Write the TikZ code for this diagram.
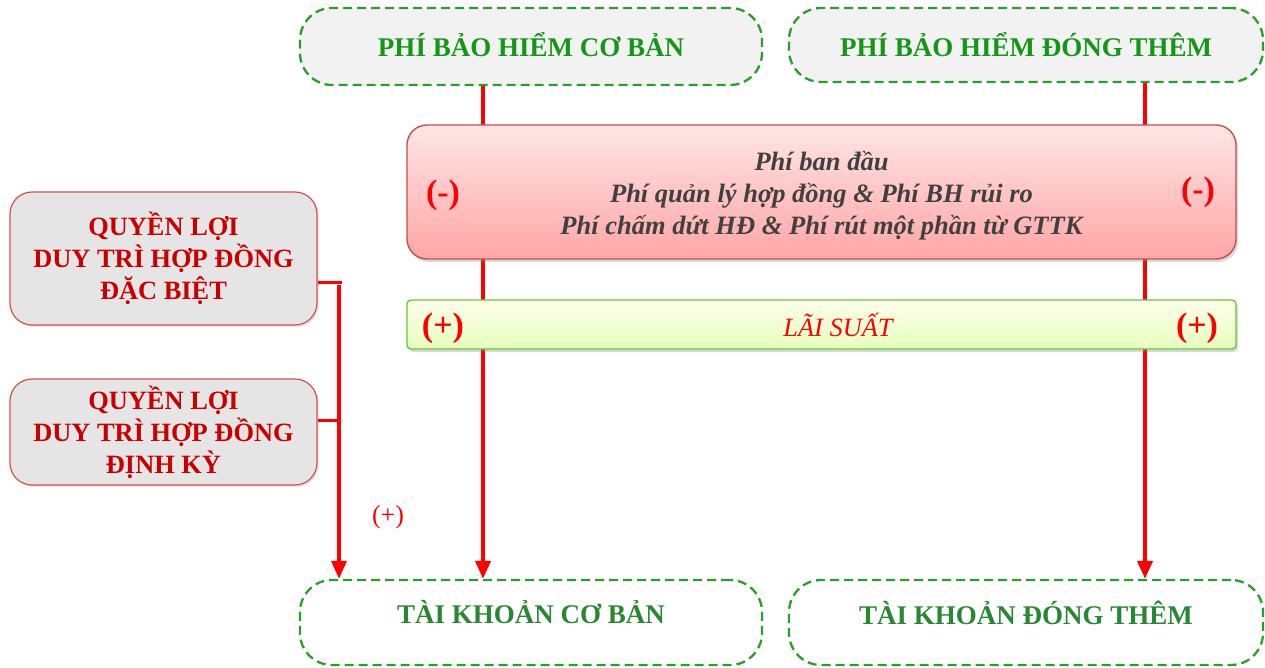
\documentclass[tikz,border=0pt]{standalone}
\usepackage{fontspec}
\setmainfont{Liberation Serif}
\usetikzlibrary{arrows.meta,shadows,calc}
\definecolor{gtext}{RGB}{22,150,22}
\definecolor{gtextb}{RGB}{40,135,50}
\definecolor{gdash}{RGB}{40,160,40}
\definecolor{rtext}{RGB}{200,0,0}
\definecolor{gray4}{RGB}{64,64,64}
\definecolor{lred}{RGB}{255,0,0}
\definecolor{feeborder}{RGB}{192,80,77}
\definecolor{sideborder}{RGB}{215,80,80}
\tikzset{
  headbox/.style={draw=gdash, dashed, dash pattern=on 9pt off 5pt, line width=2.3pt, rounded corners=32pt, fill=#1,
    minimum width=462pt, minimum height=77pt, inner sep=0pt, align=center},
  headbox/.default={white},
  sidebox/.style={draw=sideborder, line width=1.2pt, rounded corners=22pt, fill=black!10,
    minimum width=307pt, inner sep=0pt, align=center, text=rtext,
    drop shadow={opacity=0.2, shadow xshift=2pt, shadow yshift=-2pt},
    font=\fontsize{26.4}{32}\selectfont\bfseries},
  feebox/.style={draw=feeborder, line width=1.4pt, rounded corners=20pt, top color=red!10, bottom color=red!35,
    minimum width=829pt, minimum height=134pt, inner sep=0pt, align=center,
    drop shadow={opacity=0.3, shadow xshift=2pt, shadow yshift=-3pt}},
  ratebox/.style={draw=green!45!olive!80, line width=1.4pt, rounded corners=4pt, top color=green!5!yellow!8, bottom color=green!40!yellow!25,
    minimum width=829pt, minimum height=49pt, inner sep=0pt,
    drop shadow={opacity=0.3, shadow xshift=2pt, shadow yshift=-3pt}},
  flow/.style={draw=lred, line width=4pt},
  flowarr/.style={flow, -{Triangle[width=15pt,length=18pt]}},
  sign/.style={text=lred, font=\fontsize{34}{36}\selectfont\bfseries, inner sep=0pt},
  headfont/.style={font=\fontsize{27}{30}\selectfont\bfseries},
}
\begin{document}
\begin{tikzpicture}[x=1pt,y=-1pt]
\useasboundingbox (0,0) rectangle (1265,668);
% top and bottom boxes
\node[headbox=black!5, text=gtext, headfont] (tl) at (531,46.5) {};
\node[text=gtext, headfont, inner sep=0pt] (tlt) at ([yshift=1.5pt]tl.center) {PHÍ BẢO HIỂM CƠ BẢN};
\node[headbox=black!5, minimum width=474pt, minimum height=74pt] (tr) at (1026,45) {};
\node[text=gtext, headfont, inner sep=0pt] (trt) at ([yshift=0.5pt]tr.center) {PHÍ BẢO HIỂM ĐÓNG THÊM};
\node[headbox, minimum height=85pt] (b1) at (531,622.5) {};
\node[text=gtextb, headfont, inner sep=0pt] (b1t) at ([yshift=10pt]b1.center) {TÀI KHOẢN CƠ BẢN};
\node[headbox, minimum width=474pt, minimum height=85pt] (b2) at (1026,622.5) {};
\node[text=gtextb, headfont, inner sep=0pt] (b2t) at ([yshift=10pt]b2.center) {TÀI KHOẢN ĐÓNG THÊM};
% main flows
\draw[flowarr] ([xshift=-48pt]tl.south) -- ([xshift=-48pt]b1.north);
\draw[flowarr] ([xshift=119pt]tr.south) -- ([xshift=119pt]b2.north);
% fee box and rate bar
\node[feebox] (fee) at (821.5,192) {};
\node[text=gray4, align=center, font=\fontsize{26.5}{32}\selectfont\bfseries\itshape] (feetext) at (821.5,196)
  {Phí ban đầu\\Phí quản lý hợp đồng \& Phí BH rủi ro\\Phí chấm dứt HĐ \& Phí rút một phần từ GTTK};
\node[sign] (m1) at (443,195) {(-)};
\node[sign] (m2) at (1198,192) {(-)};
\node[ratebox] (rate) at (821.5,324.5) {};
\node[text=lred, font=\fontsize{26.4}{30}\selectfont\itshape] (ratetext) at (838,325) {LÃI SUẤT};
\node[sign] (p1) at (443,328) {(+)};
\node[sign] (p2) at (1197,328) {(+)};
% side boxes
\node[sidebox, minimum height=133pt] (l1) at (163.5,258.5) {QUYỀN LỢI\\DUY TRÌ HỢP ĐỒNG\\ĐẶC BIỆT};
\node[sidebox, minimum height=106pt] (l2) at (163.5,432) {QUYỀN LỢI\\DUY TRÌ HỢP ĐỒNG\\ĐỊNH KỲ};
\coordinate (j1) at (339,282);
\coordinate (j2) at (339,420);
\draw[flow, line width=3pt] (j1 -| l1.east) -- ([xshift=3pt]j1);
\draw[flow, line width=3pt] (j2 -| l2.east) -- (j2);
\draw[flowarr, line width=3.5pt] ([yshift=-3pt]j1) -- (j1 |- b1.north);
\node[text=lred, font=\fontsize{26}{28}\selectfont, inner sep=0pt] (pl) at (388,517) {(+)};
\end{tikzpicture}
\end{document}
